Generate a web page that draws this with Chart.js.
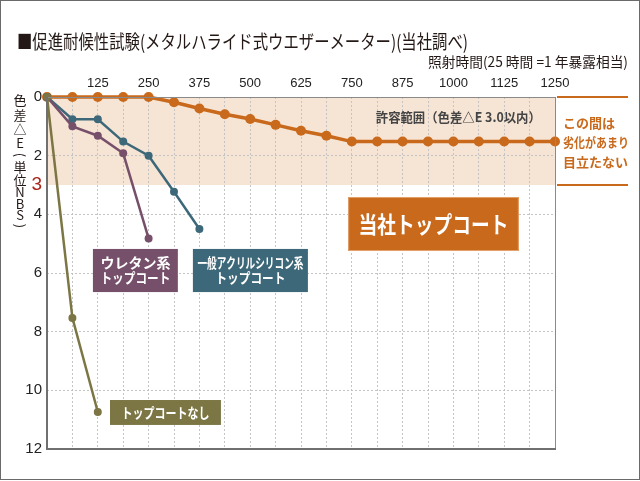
<!DOCTYPE html>
<html>
<head>
<meta charset="utf-8">
<script src="https://cdn.jsdelivr.net/npm/chart.js@4.4.1/dist/chart.umd.min.js"></script>
<style>
  html, body { margin: 0; padding: 0; background: #fff; }
  #wrap { width: 640px; height: 481px; }
</style>
</head>
<body>
<div id="wrap"><canvas id="mycanvas" width="640" height="481"></canvas></div>
<script>
// 照射時間 (h)
var hours = [0, 62.5, 125, 187.5, 250, 312.5, 375, 437.5, 500, 562.5, 625, 687.5, 750, 812.5, 875, 937.5, 1000, 1062.5, 1125, 1187.5, 1250];
var xTickLabels = [125, 250, 375, 500, 625, 750, 875, 1000, 1125, 1250];
var yTickValues = [0, 2, 3, 4, 6, 8, 10, 12];

// 色差 ΔE
var ourCoat  = [0, 0, 0, 0, 0, 0.18, 0.39, 0.59, 0.75, 0.95, 1.15, 1.32, 1.52, 1.52, 1.52, 1.52, 1.52, 1.52, 1.52, 1.52, 1.52];
var acrylic  = [0, 0.76, 0.76, 1.52, 2.0, 3.23, 4.5];
var urethane = [0, 1.0, 1.32, 1.92, 4.82];
var noCoat   = [0, 7.53, 10.74];

var JP = '"Noto Sans CJK JP", "Noto Sans", sans-serif';
var ORANGE = '#c9691b', TEAL = '#3d6879', PURPLE = '#76506a', OLIVE = '#7b7644';

function pts(vals) {
	var out = [];
	for (var i in vals) out.push({x: hours[i], y: vals[i]});
	return out;
}

function box(ctx, x, y, fill, x0, x1, y0, y1, lines, font, lineH, stroke) {
	var l = x.getPixelForValue(x0), r = x.getPixelForValue(x1);
	var t = y.getPixelForValue(y0), b = y.getPixelForValue(y1);
	ctx.fillStyle = fill;
	ctx.fillRect(l, t, r - l, b - t);
	if (stroke) {
		ctx.strokeStyle = stroke;
		ctx.lineWidth = 1;
		ctx.strokeRect(l + 0.5, t + 0.5, r - l - 1, b - t - 1);
	}
	ctx.fillStyle = '#fff';
	ctx.font = font;
	ctx.textAlign = 'center';
	ctx.textBaseline = 'middle';
	var cx = (l + r) / 2, cy = (t + b) / 2 - (lines.length - 1) * lineH / 2;
	for (var i = 0; i < lines.length; i++) {
		ctx.fillText(lines[i].t, cx, cy + i * lineH, lines[i].w);
	}
}

var decor = {
	id: 'decor',
	beforeDraw: function(chart) {
		var ctx = chart.ctx, a = chart.chartArea, y = chart.scales.y;
		ctx.save();
		ctx.fillStyle = '#fff';
		ctx.fillRect(0, 0, chart.width, chart.height);
		// 許容範囲 band
		ctx.fillStyle = '#f6e5d5';
		ctx.fillRect(a.left, y.getPixelForValue(0), a.right - a.left, y.getPixelForValue(3) - y.getPixelForValue(0));
		ctx.restore();
	},
	afterDatasetsDraw: function(chart) {
		var ctx = chart.ctx, a = chart.chartArea, x = chart.scales.x, y = chart.scales.y;
		ctx.save();
		// plot frame
		ctx.strokeStyle = '#8a8a8a';
		ctx.lineWidth = 1;
		ctx.strokeRect(a.left + 0.5, a.top + 0.5, a.right - a.left, a.bottom - a.top);
		ctx.strokeStyle = '#707070';
		ctx.lineWidth = 2;
		ctx.beginPath();
		ctx.moveTo(a.left, a.top);
		ctx.lineTo(a.left, a.bottom);
		ctx.lineTo(a.right + 1, a.bottom);
		ctx.stroke();

		// outer frame
		ctx.strokeStyle = '#6a6a6a';
		ctx.lineWidth = 1;
		ctx.strokeRect(0.5, 0.5, chart.width - 1, chart.height - 2);

		// titles
		ctx.fillStyle = '#231815';
		ctx.textBaseline = 'middle';
		ctx.textAlign = 'left';
		ctx.font = '19px ' + JP;
		ctx.fillText('■促進耐候性試験(メタルハライド式ウエザーメーター)(当社調べ)', 17, 42, 451);
		ctx.textAlign = 'right';
		ctx.font = '14px ' + JP;
		ctx.fillText('照射時間(25 時間 =1 年暴露相当)', 628, 62, 200);

		// vertical y title
		var chars = ['色', '差', '△', 'E', '(', '単', '位', 'N', 'B', 'S', ')'];
		var ys = [100, 115, 129, 143, 155, 167, 180, 192, 204, 215, 226];
		ctx.textAlign = 'center';
		ctx.font = '13px ' + JP;
		for (var i = 0; i < chars.length; i++) {
			if (chars[i] === '(' || chars[i] === ')') {
				ctx.save();
				ctx.translate(20, ys[i]);
				ctx.rotate(Math.PI / 2);
				ctx.fillText(chars[i], 0, 0);
				ctx.restore();
			} else {
				ctx.fillText(chars[i], 20, ys[i]);
			}
		}

		// right note
		var y0 = y.getPixelForValue(0), y3 = y.getPixelForValue(3);
		ctx.strokeStyle = ORANGE;
		ctx.lineWidth = 2;
		ctx.beginPath();
		ctx.moveTo(557, y0); ctx.lineTo(628, y0);
		ctx.moveTo(557, y3); ctx.lineTo(628, y3);
		ctx.stroke();
		ctx.fillStyle = ORANGE;
		ctx.textAlign = 'left';
		ctx.font = 'bold 13px ' + JP;
		ctx.fillText('この間は', 563, 123);
		ctx.fillText('劣化があまり', 563, 142, 66);
		ctx.fillText('目立たない', 563, 162);

		// band caption
		ctx.fillStyle = '#444';
		ctx.textAlign = 'right';
		ctx.font = 'bold 13px ' + JP;
		ctx.fillText('許容範囲（色差△E 3.0以内）', x.getPixelForValue(1215), y.getPixelForValue(0.68), 165);

		// series labels
		box(ctx, x, y, PURPLE, 113, 322, 5.18, 6.65,
			[{t: 'ウレタン系', w: 70}, {t: 'トップコート', w: 70}], 'bold 14px ' + JP, 15);
		box(ctx, x, y, TEAL, 359, 642, 5.18, 6.65,
			[{t: '一般アクリルシリコン系', w: 106}, {t: 'トップコート', w: 70}], 'bold 14px ' + JP, 15);
		box(ctx, x, y, OLIVE, 155, 428, 10.33, 11.18,
			[{t: 'トップコートなし', w: 88}], 'bold 14px ' + JP, 15);
		box(ctx, x, y, ORANGE, 741, 1161, 3.41, 5.25,
			[{t: '当社トップコート', w: 150}], 'bold 23px ' + JP, 0, '#e3a06a');
		ctx.restore();
	}
};

function ds(label, vals, color, width, radius) {
	return {
		label: label,
		data: pts(vals),
		borderColor: color,
		backgroundColor: color,
		borderWidth: width,
		pointRadius: radius,
		pointBorderWidth: 0,
		tension: 0,
		clip: false
	};
}

var ctx = document.getElementById('mycanvas');
var chart = new Chart(ctx, {
	type: 'line',
	data: {
		datasets: [
			ds('トップコートなし', noCoat, OLIVE, 2.5, 4),
			ds('ウレタン系トップコート', urethane, PURPLE, 2.5, 4),
			ds('一般アクリルシリコン系トップコート', acrylic, TEAL, 2.5, 4),
			ds('当社トップコート', ourCoat, ORANGE, 3.5, 5)
		]
	},
	options: {
		responsive: false,
		animation: false,
		events: [],
		layout: { padding: { left: 0, right: 85, top: 0, bottom: 32 } },
		plugins: { legend: { display: false }, tooltip: { enabled: false } },
		scales: {
			x: {
				type: 'linear',
				position: 'top',
				min: 0,
				max: 1250,
				afterFit: function(s) { s.height = 97; },
				border: { display: false, dash: [2, 2] },
				grid: {
					drawTicks: false,
					color: function(c) {
						var v = c.tick.value;
						return (v === 0 || v === 1250) ? 'rgba(0,0,0,0)' : '#c4c4c4';
					}
				},
				ticks: {
					stepSize: 62.5,
					autoSkip: false,
					maxRotation: 0,
					padding: 6,
					color: '#222',
					font: { family: '"Liberation Sans", Arial, sans-serif', size: 13 },
					callback: function(v) { return xTickLabels.indexOf(v) >= 0 ? v : ''; }
				}
			},
			y: {
				reverse: true,
				min: 0,
				max: 12,
				afterFit: function(s) { s.width = 47; },
				afterBuildTicks: function(s) {
					s.ticks = yTickValues.map(function(v) { return {value: v}; });
				},
				border: { display: false, dash: [2, 2] },
				grid: {
					drawTicks: false,
					color: function(c) {
						var v = c.tick.value;
						return (v === 0 || v === 3 || v === 12) ? 'rgba(0,0,0,0)' : '#c4c4c4';
					}
				},
				ticks: {
					padding: 5,
					color: function(c) { return c.tick.value === 3 ? '#a8261c' : '#222'; },
					font: function(c) {
						return { family: '"Liberation Sans", Arial, sans-serif', size: c.tick && c.tick.value === 3 ? 19 : 15 };
					}
				}
			}
		}
	},
	plugins: [decor]
});
</script>
</body>
</html>
